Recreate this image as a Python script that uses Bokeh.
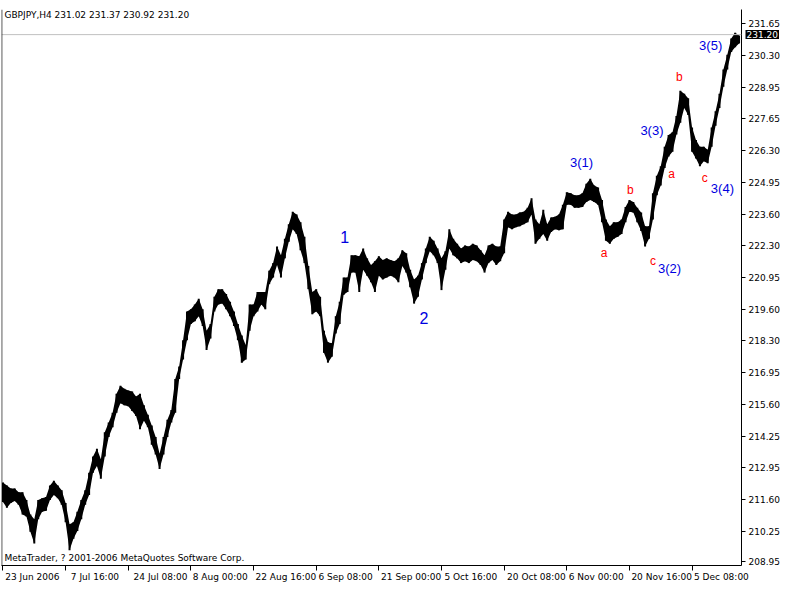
from bokeh.plotting import figure
from bokeh.models import FixedTicker, Label, Span, Range1d
from bokeh.embed import file_html
from bokeh.resources import INLINE

# GBPJPY H4, 23 Jun 2006 - mid Dec 2006; one sample per 4 H4 bars (high / low of the group)
highs = [212.30, 212.18, 212.05, 212.05, 211.89, 211.89, 211.56, 210.95, 210.75, 211.56,
         211.64, 211.69, 212.18, 212.38, 212.18, 211.97, 211.44, 210.54, 210.62, 211.07,
         211.56, 211.97, 212.71, 213.40, 213.73, 213.28, 214.42, 214.83, 215.24, 216.05,
         216.38, 216.26, 216.18, 216.14, 215.93, 216.05, 215.56, 215.16, 214.71, 214.22,
         213.52, 214.22, 214.95, 215.36, 216.67, 217.20, 218.30, 219.52, 219.61, 219.81,
         220.06, 219.61, 218.71, 218.99, 220.14, 220.46, 220.46, 220.26, 219.93, 219.52,
         218.99, 218.50, 218.10, 219.81, 219.81, 220.34, 220.34, 220.34, 221.24, 221.56,
         222.26, 221.89, 222.59, 223.20, 223.73, 223.61, 223.28, 222.67, 221.44, 220.34,
         220.46, 220.14, 218.71, 218.22, 218.18, 219.32, 219.93, 220.95, 220.95, 221.89,
         221.89, 221.85, 222.18, 221.76, 221.48, 221.64, 221.85, 221.69, 221.76, 221.69,
         221.64, 221.76, 222.10, 221.97, 221.28, 220.87, 221.03, 221.56, 222.18, 222.67,
         222.50, 222.18, 221.76, 222.06, 222.99, 222.59, 222.38, 222.18, 222.30, 222.26,
         222.38, 222.30, 222.10, 221.89, 222.30, 222.38, 222.26, 222.26, 223.40, 223.73,
         223.61, 223.61, 223.69, 223.73, 223.89, 224.30, 223.40, 223.20, 223.81, 223.20,
         223.48, 223.52, 223.61, 224.02, 224.55, 224.51, 224.42, 224.42, 224.51, 224.91,
         225.12, 224.83, 224.75, 224.22, 223.40, 223.11, 223.28, 223.28, 223.40, 223.93,
         224.22, 224.14, 223.89, 223.69, 223.11, 223.11, 224.51, 225.24, 225.65, 226.47,
         226.96, 227.08, 227.77, 228.83, 228.71, 228.51, 227.28, 226.75, 226.47, 226.47,
         226.34, 227.28, 227.97, 228.71, 229.73, 230.35, 231.04, 231.28, 231.16]
lows = [211.48, 211.24, 211.44, 211.52, 211.36, 210.95, 210.87, 210.22, 209.73, 210.75,
        211.07, 211.11, 211.56, 211.77, 211.64, 211.36, 210.62, 209.44, 209.93, 210.26,
        210.75, 211.36, 211.77, 212.71, 213.00, 212.46, 213.40, 214.22, 214.63, 215.24,
        215.65, 215.56, 215.52, 215.32, 215.11, 214.55, 214.91, 214.63, 213.89, 213.48,
        212.87, 213.48, 214.22, 214.83, 215.24, 216.67, 217.49, 218.30, 218.99, 219.11,
        219.32, 218.91, 217.89, 218.38, 219.52, 219.81, 219.85, 219.61, 219.32, 218.91,
        218.30, 217.36, 217.49, 218.71, 219.32, 219.52, 219.81, 219.61, 220.67, 220.95,
        221.48, 220.95, 221.76, 222.46, 222.99, 222.79, 222.10, 221.56, 220.46, 219.40,
        219.52, 219.32, 217.77, 217.36, 217.61, 218.59, 218.99, 220.22, 220.34, 221.16,
        221.16, 220.34, 221.28, 221.03, 220.75, 220.34, 221.03, 220.87, 220.95, 221.03,
        220.95, 220.75, 221.44, 221.16, 220.54, 219.85, 220.14, 220.87, 221.56, 222.06,
        221.89, 221.56, 220.42, 221.28, 222.18, 221.89, 221.76, 221.56, 221.64, 221.56,
        221.69, 221.64, 221.48, 221.16, 221.56, 221.69, 221.48, 221.64, 221.97, 223.07,
        222.99, 223.07, 223.11, 223.20, 223.28, 223.61, 222.38, 222.59, 222.79, 222.50,
        222.87, 222.99, 222.95, 222.99, 224.02, 224.02, 223.89, 223.89, 223.93, 224.14,
        224.22, 224.14, 224.02, 223.28, 222.50, 222.38, 222.59, 222.67, 222.79, 223.28,
        223.73, 223.69, 223.28, 222.91, 222.26, 222.59, 223.40, 224.42, 224.83, 225.57,
        226.06, 226.26, 226.99, 227.48, 228.10, 227.81, 226.26, 225.97, 225.65, 225.86,
        225.77, 226.47, 227.36, 228.10, 229.00, 229.73, 230.47, 230.67, 230.83]
bars_per_sample = 4

time_tick_bars = [0, 64, 128, 192, 256, 320, 384, 448, 512, 576, 640, 704]
time_tick_labels = ["23 Jun 2006", "7 Jul 16:00", "24 Jul 08:00", "8 Aug 00:00",
                    "22 Aug 16:00", "6 Sep 08:00", "21 Sep 00:00", "5 Oct 16:00",
                    "20 Oct 08:00", "6 Nov 00:00", "20 Nov 16:00", "5 Dec 08:00"]
price_ticks = [231.65, 230.30, 228.95, 227.65, 226.30, 224.95, 223.60, 222.30, 220.95,
               219.60, 218.30, 216.95, 215.60, 214.25, 212.95, 211.60, 210.25, 208.95]
last_open, last_high, last_low, last_close = 231.02, 231.37, 230.92, 231.20

# wave annotations: text, bar index, price, colour, size
BLUE = "#0000e0"
waves = [("1", 349, 222.67, BLUE, "16px"),
         ("2", 430, 219.24, BLUE, "16px"),
         ("3(1)", 591, 225.81, BLUE, "13px"),
         ("a", 614, 221.97, "red", "12px"),
         ("b", 641, 224.63, "red", "12px"),
         ("c", 664, 221.65, "red", "12px"),
         ("3(2)", 681, 221.32, BLUE, "13px"),
         ("3(3)", 663, 227.16, BLUE, "13px"),
         ("a", 683, 225.32, "red", "12px"),
         ("b", 691, 229.41, "red", "12px"),
         ("c", 717, 225.16, "red", "12px"),
         ("3(4)", 735, 224.71, BLUE, "13px"),
         ("3(5)", 723, 230.75, BLUE, "13px")]

FONT = "DejaVu Sans"
X0, X1 = -1.5, 754.5
Y0, Y1 = 208.80, 232.26
FRAME_W = 740
FRAME_H = 571

p = figure(width=784, height=584, x_range=Range1d(X0, X1), y_range=Range1d(Y0, Y1),
           output_backend="svg", toolbar_location=None, y_axis_location="right",
           min_border_left=1, min_border_right=43, min_border_top=0, min_border_bottom=13)
p.outline_line_color = None
p.background_fill_color = "white"
p.border_fill_color = "white"
p.grid.visible = False

xs = [i * bars_per_sample for i in range(len(highs))]
p.varea(x=xs, y1=lows, y2=highs, fill_color="black")
p.segment(x0=xs, y0=lows, x1=xs, y1=highs, line_color="black", line_width=2)

# current price line
p.add_layout(Span(location=last_close, dimension="width", line_color="#c0c0c0", line_width=1))
# left frame line
p.add_layout(Span(location=X0 + 0.3, dimension="height", line_color="black", line_width=1))

ya = p.yaxis[0]
ya.axis_label = None
ya.ticker = FixedTicker(ticks=price_ticks)
ya.major_label_overrides = {t: f"{t:.2f}" for t in price_ticks}
ya.major_tick_out = 4
ya.major_tick_in = 0
ya.minor_tick_line_color = None
ya.axis_line_color = "black"
ya.major_tick_line_color = "black"
ya.major_label_standoff = 3
ya.major_label_text_font = FONT
ya.major_label_text_font_size = "9px"
ya.major_label_text_color = "black"

# time axis: labels sit to the right of their tick marks (tick marks drawn as minor ticks)
px_per_bar = FRAME_W / (X1 - X0)
label_centres = [int(round(t + (2 + 2.5 * len(lab)) / px_per_bar))
                 for t, lab in zip(time_tick_bars, time_tick_labels)]
xa = p.xaxis[0]
xa.axis_label = None
xa.axis_label_standoff = 0
xa.ticker = FixedTicker(ticks=label_centres, minor_ticks=time_tick_bars)
xa.major_label_overrides = {c: lab for c, lab in zip(label_centres, time_tick_labels)}
xa.major_tick_out = 0
xa.major_tick_in = 0
xa.major_tick_line_color = None
xa.minor_tick_out = 5
xa.minor_tick_in = 0
xa.minor_tick_line_color = "black"
xa.axis_line_color = "black"
xa.major_label_standoff = 1
xa.major_label_text_font = FONT
xa.major_label_text_font_size = "9px"
xa.major_label_text_color = "black"

# current price tag over the price scale (side-panel annotation, so it is not clipped)
p.add_layout(Label(x=X1, y=last_close, x_offset=4, text=f"{last_close:.2f}",
                   text_align="left", text_baseline="middle", text_font=FONT,
                   text_font_size="9px", text_color="white",
                   background_fill_color="black", padding=1), "above")

px_per_yen = FRAME_H / (Y1 - Y0)
p.add_layout(Label(x=1.5, y=Y1 - 6 / px_per_yen,
                   text=f"GBPJPY,H4  {last_open:.2f} {last_high:.2f} {last_low:.2f} {last_close:.2f}",
                   text_align="left", text_baseline="middle", text_font=FONT,
                   text_font_size="9px", text_color="black"))
p.add_layout(Label(x=1.5, y=Y0 + 8 / px_per_yen,
                   text="MetaTrader, ? 2001-2006 MetaQuotes Software Corp.",
                   text_align="left", text_baseline="middle", text_font=FONT,
                   text_font_size="9px", text_color="black"))

for txt, bx, py, col, size in waves:
    p.add_layout(Label(x=bx, y=py, text=txt, text_align="center", text_baseline="middle",
                       text_font="Liberation Sans", text_font_size=size, text_color=col))

open("out.html", "w").write(file_html(p, INLINE))
